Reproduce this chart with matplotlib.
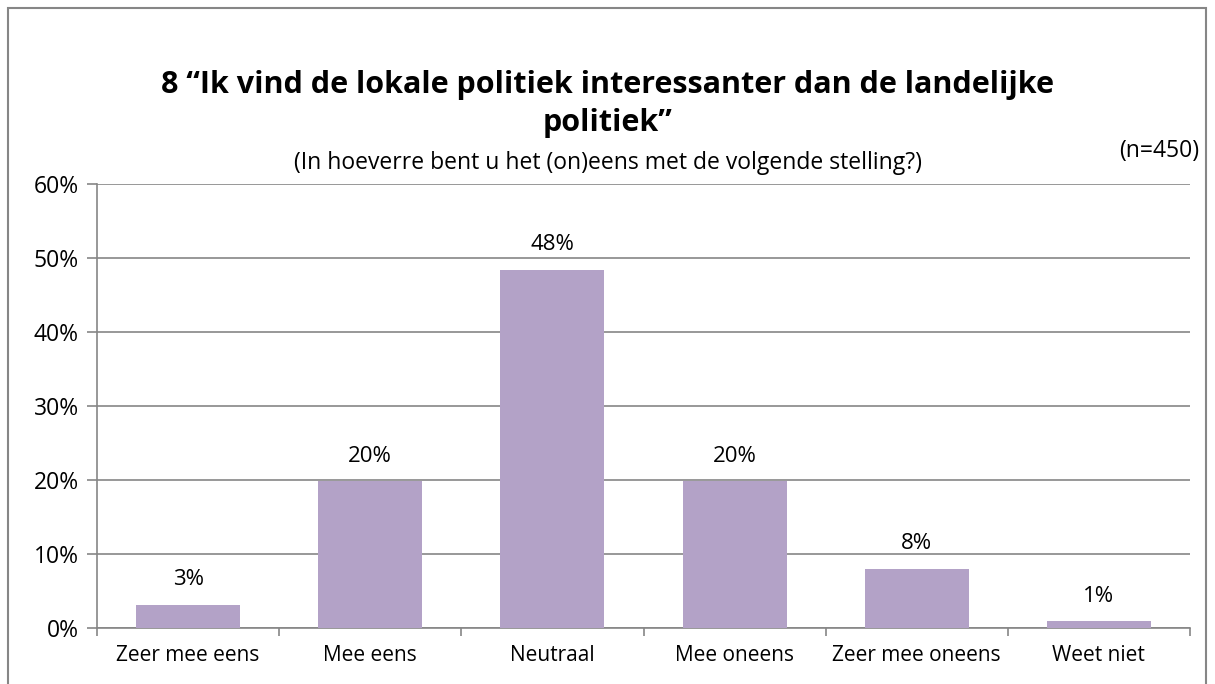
import matplotlib
matplotlib.use('Agg')
import matplotlib.pyplot as plt
from matplotlib.patches import Rectangle

categories = ['Zeer mee eens', 'Mee eens', 'Neutraal', 'Mee oneens', 'Zeer mee oneens', 'Weet niet']
values = [3.1, 19.8, 48.4, 19.8, 8.0, 0.9]
labels = ['3%', '20%', '48%', '20%', '8%', '1%']
yticks = [0, 10, 20, 30, 40, 50, 60]

plt.rcParams['font.family'] = ['Open Sans', 'DejaVu Sans']

fig = plt.figure(figsize=(12.15, 6.84), dpi=100)
ax = fig.add_axes([97/1215, 1 - 628/684, (1190-97)/1215, (628-184)/684])

grid_c = '#868686'
ax.bar(range(len(values)), values, width=0.57, color='#B3A2C7', zorder=3)
for i, v in enumerate(values):
    ax.text(i, v + 2.0, labels[i], ha='center', va='bottom', fontsize=16)

ax.set_xlim(-0.5, len(values) - 0.5)
ax.set_ylim(0, 60)
ax.set_yticks(yticks)
ax.set_yticklabels([f'{t}%' for t in yticks], fontsize=16.5)
ax.yaxis.grid(True, color=grid_c, linewidth=1.2, zorder=0)
ax.set_xticks(range(len(values)))
ax.set_xticklabels(categories, fontsize=15)
ax.set_xticks([i + 0.5 for i in range(-1, len(values))], minor=True)
ax.tick_params(axis='x', which='major', length=0, pad=12)
ax.tick_params(axis='x', which='minor', length=6, color=grid_c, width=1.2)
ax.tick_params(axis='y', length=7, color=grid_c, width=1.2, pad=6)
for s in ['top', 'right']:
    ax.spines[s].set_visible(False)
for s in ['left', 'bottom']:
    ax.spines[s].set_color(grid_c)
    ax.spines[s].set_linewidth(1.2)

fig.text(0.5, 1 - 85/684, '8 \u201cIk vind de lokale politiek interessanter dan de landelijke',
         ha='center', va='center', fontsize=22, fontweight='bold')
fig.text(0.5, 1 - 123/684, 'politiek\u201d', ha='center', va='center', fontsize=22, fontweight='bold')
fig.text(0.5, 1 - 163/684, '(In hoeverre bent u het (on)eens met de volgende stelling?)',
         ha='center', va='center', fontsize=16.5)
fig.text(1199/1215, 1 - 151/684, '(n=450)', ha='right', va='center', fontsize=16.5)

fig.patches.append(Rectangle((8/1215, -0.01), 1198/1215, 1 - 8/684 + 0.01, transform=fig.transFigure,
                             fill=False, edgecolor=grid_c, linewidth=1.5))

fig.savefig('out.png', dpi=100)
